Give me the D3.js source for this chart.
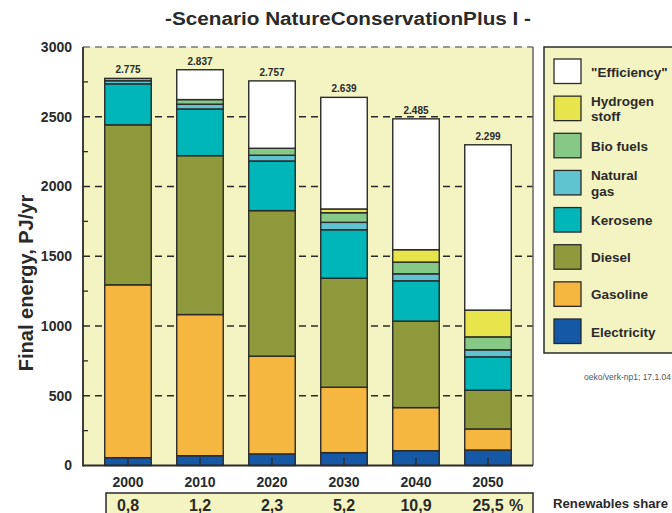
<!DOCTYPE html>
<html><head><meta charset="utf-8">
<script src="https://cdn.jsdelivr.net/npm/d3@7"></script>
<style>body{margin:0;background:#fff}svg{display:block;font-family:Arial,"Liberation Sans",sans-serif}</style>
</head><body><svg id="c" width="672" height="513"></svg>
<script>
const years = ["2000","2010","2020","2030","2040","2050"];
const electricity = [56, 70, 83, 92, 106, 111];
const gasoline    = [1239, 1012, 701, 469, 309, 151];
const diesel      = [1147, 1139, 1043, 782, 620, 278];
const kerosene    = [294, 335, 356, 347, 289, 239];
const naturalGas  = [22, 34, 41, 53, 50, 50];
const bioFuels    = [17, 33, 50, 69, 84, 93];
const hydrogen    = [0, 0, 0, 27, 89, 192];
const efficiency  = [0, 214, 483, 800, 938, 1185];
const totals      = ["2.775","2.837","2.757","2.639","2.485","2.299"];
const renewables  = ["0,8","1,2","2,3","5,2","10,9","25,5"];
const yTicks = [0,500,1000,1500,2000,2500,3000];

const seriesDefs = [
  {key:"electricity", label:["Electricity"], values:electricity, color:"#1558a6"},
  {key:"gasoline", label:["Gasoline"], values:gasoline, color:"#f5b73f"},
  {key:"diesel", label:["Diesel"], values:diesel, color:"#8e9a3b"},
  {key:"kerosene", label:["Kerosene"], values:kerosene, color:"#00b6b8"},
  {key:"naturalGas", label:["Natural","gas"], values:naturalGas, color:"#5fc4d0"},
  {key:"bioFuels", label:["Bio fuels"], values:bioFuels, color:"#86c885"},
  {key:"hydrogen", label:["Hydrogen","stoff"], values:hydrogen, color:"#e8e44b"},
  {key:"efficiency", label:["\"Efficiency\""], values:efficiency, color:"#ffffff"}
];

const svg = d3.select("#c");
const ink = "#2a2a2a";
const bg = "#f4f4c3";
const L = 83, R = 533, T = 47, B = 465.5;

const x = d3.scaleBand().domain(years).range([L, R]).paddingInner(0.354).paddingOuter(0.302);
const y = d3.scaleLinear().domain([0, 3000]).range([B, T]);

// title
svg.append("text").attr("x", 348).attr("y", 25).attr("text-anchor","middle")
  .attr("font-size", 18).attr("font-weight","bold").attr("fill", ink)
  .attr("textLength", 366).attr("lengthAdjust","spacingAndGlyphs")
  .text("-Scenario NatureConservationPlus I -");

// plot background
svg.append("rect").attr("x", L).attr("y", T).attr("width", R-L).attr("height", B-T).attr("fill", bg);

// grid lines (dashed)
svg.append("g").selectAll("line").data(yTicks.filter(d=>d>0)).join("line")
  .attr("x1", L).attr("x2", R).attr("y1", d=>y(d)).attr("y2", d=>y(d))
  .attr("stroke", d=> d===3000 ? "#777" : ink).attr("stroke-width", d=> d===3000?1.5:1.3)
  .attr("stroke-dasharray", "7,5");

// right border
svg.append("line").attr("x1", R).attr("x2", R).attr("y1", T).attr("y2", B).attr("stroke","#666").attr("stroke-width",1.5);

// stacked bars
const table = years.map((yr,i)=>{ const o={year:yr}; seriesDefs.forEach(s=>o[s.key]=s.values[i]); return o; });
const stack = d3.stack().keys(seriesDefs.map(s=>s.key))(table);
const gBars = svg.append("g");
stack.forEach((layer, li)=>{
  gBars.append("g").selectAll("rect").data(layer.filter(d=>d[1]-d[0]>0)).join("rect")
    .attr("x", d=>x(d.data.year)).attr("width", x.bandwidth())
    .attr("y", d=>y(d[1])).attr("height", d=>y(d[0])-y(d[1]))
    .attr("fill", seriesDefs[li].color).attr("stroke", ink).attr("stroke-width", 1.4);
});

// totals labels
svg.append("g").selectAll("text").data(years).join("text")
  .attr("x", d=>x(d)+x.bandwidth()/2)
  .attr("y", (d,i)=>y(d3.sum(seriesDefs, s=>s.values[i])) - 5)
  .attr("text-anchor","middle").attr("font-size", 10).attr("font-weight","bold").attr("fill", ink)
  .text((d,i)=>totals[i]);

// y axis
svg.append("g").selectAll("line").data(d3.range(250, 3000, 500)).join("line")
  .attr("x1", L).attr("x2", L+5).attr("y1", d=>y(d)).attr("y2", d=>y(d)).attr("stroke", ink).attr("stroke-width",1.3);
svg.append("line").attr("x1", L).attr("x2", L).attr("y1", T).attr("y2", B+1).attr("stroke", ink).attr("stroke-width", 1.8);
const yAxis = d3.axisLeft(y).tickValues(yTicks).tickFormat(d3.format("d")).tickSize(0).tickPadding(11);
const ya = svg.append("g").attr("transform", `translate(${L},0)`).call(yAxis);
ya.select(".domain").remove();
ya.selectAll("text").attr("font-size", 14).attr("font-weight","bold").attr("fill", ink)
  .attr("font-family","Arial, 'Liberation Sans', sans-serif");

// x axis
svg.append("line").attr("x1", L).attr("x2", R).attr("y1", B).attr("y2", B).attr("stroke", ink).attr("stroke-width", 2.2);
svg.append("g").selectAll("line").data(years).join("line")
  .attr("x1", d=>x(d)+x.bandwidth()/2).attr("x2", d=>x(d)+x.bandwidth()/2)
  .attr("y1", B).attr("y2", B-8).attr("stroke", ink).attr("stroke-width", 1.3);
svg.append("g").selectAll("text").data(years).join("text")
  .attr("x", d=>x(d)+x.bandwidth()/2).attr("y", 487).attr("text-anchor","middle")
  .attr("font-size", 14).attr("font-weight","bold").attr("fill", ink).text(d=>d);

// y label
svg.append("text").attr("transform","translate(33,283) rotate(-90)").attr("text-anchor","middle")
  .attr("font-size", 20).attr("font-weight","bold").attr("fill", ink).text("Final energy, PJ/yr");

// renewables box
svg.append("rect").attr("x", 106).attr("y", 493).attr("width", R-106).attr("height", 30)
  .attr("fill", bg).attr("stroke", ink).attr("stroke-width", 1.5);
const rg = svg.append("g");
rg.selectAll("text").data(years).join("text")
  .attr("x", d=>x(d)+x.bandwidth()/2).attr("y", 511).attr("text-anchor","middle")
  .attr("font-size", 16).attr("font-weight","bold").attr("fill", ink).text((d,i)=>renewables[i]);
rg.append("text").attr("x", x(years[5])+x.bandwidth()/2 + 21).attr("y", 511)
  .attr("font-size", 16).attr("font-weight","bold").attr("fill", ink).text("%");
svg.append("text").attr("x", 553).attr("y", 508).attr("font-size", 13).attr("font-weight","bold")
  .attr("fill", ink).attr("textLength", 115).attr("lengthAdjust","spacingAndGlyphs").text("Renewables share");

// legend
const lg = svg.append("g");
lg.append("rect").attr("x", 544).attr("y", 47).attr("width", 140).attr("height", 306)
  .attr("fill", bg).attr("stroke", ink).attr("stroke-width", 1.5);
const legendItems = seriesDefs.slice().reverse();
const ly = d3.scalePoint().domain(legendItems.map(d=>d.key)).range([59, 319]);
const rows = lg.selectAll("g.row").data(legendItems).join("g").attr("class","row")
  .attr("transform", d=>`translate(0,${ly(d.key)})`);
rows.append("rect").attr("x", 554).attr("y", 0).attr("width", 27).attr("height", 24.5)
  .attr("fill", d=>d.color).attr("stroke", ink).attr("stroke-width", 1.3);
const lineGap = 15.5;
rows.each(function(d){
  const n = d.label.length;
  const t = d3.select(this).append("text").attr("x", 591)
    .attr("y", 12.5 + 5 - (n-1)/2*lineGap)
    .attr("font-size", 13.5).attr("font-weight","bold").attr("fill", ink);
  d.label.forEach((s,i)=>{
    t.append("tspan").attr("x", 591).attr("dy", i===0 ? 0 : lineGap).text(s);
  });
});
svg.append("text").attr("x", 671).attr("y", 380).attr("text-anchor","end")
  .attr("font-size", 8.5).attr("fill", "#555").text("oeko/verk-np1; 17.1.04");
</script></body></html>
